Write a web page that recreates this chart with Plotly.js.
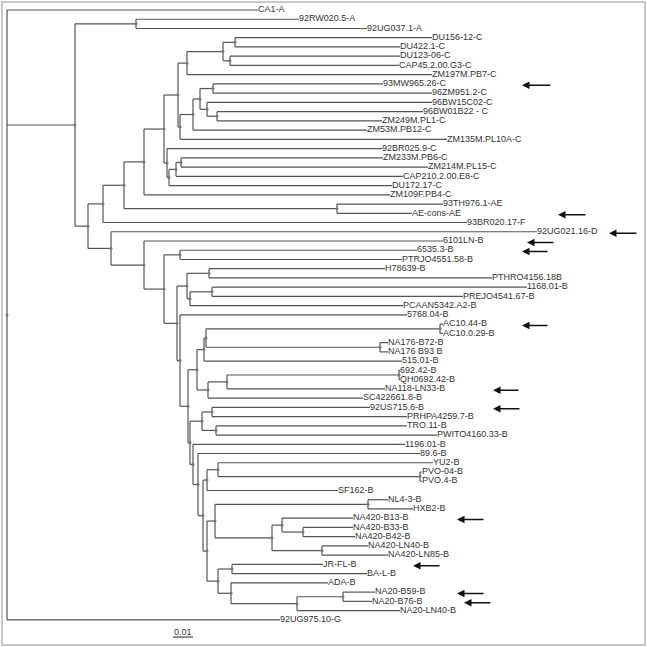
<!DOCTYPE html>
<html><head><meta charset="utf-8">
<script src="https://cdn.plot.ly/plotly-3.0.1.min.js"></script>
<style>html,body{margin:0;padding:0;background:#fff}#chart{width:647px;height:647px}</style>
</head><body><div id="chart"></div>
<script>
// ---- tips (top to bottom) ----
const tipLabels = ["CA1-A","92RW020.5-A","92UG037.1-A","DU156-12-C","DU422.1-C","DU123-06-C","CAP45.2.00.G3-C","ZM197M.PB7-C","93MW965.26-C","96ZM951.2-C","96BW15C02-C","96BW01B22 - C","ZM249M.PL1-C","ZM53M.PB12-C","ZM135M.PL10A-C","92BR025.9-C","ZM233M.PB6-C","ZM214M.PL15-C","CAP210.2.00.E8-C","DU172.17-C","ZM109F.PB4-C","93TH976.1-AE","AE-cons-AE","93BR020.17-F","92UG021.16-D","6101LN-B","6535.3-B","PTRJO4551.58-B","H78639-B","PTHRO4156.18B","1168.01-B","PREJO4541.67-B","PCAAN5342.A2-B","5768.04-B","AC10.44-B","AC10.0.29-B","NA176-B72-B","NA176 B93 B","515.01-B","692.42-B","QH0692.42-B","NA118-LN33-B","SC422661.8-B","92US715.6-B","PRHPA4259.7-B","TRO.11-B","PWITO4160.33-B","1196.01-B","89.6-B","YU2-B","PVO-04-B","PVO.4-B","SF162-B","NL4-3-B","HXB2-B","NA420-B13-B","NA420-B33-B","NA420-B42-B","NA420-LN40-B","NA420-LN85-B","JR-FL-B","BA-L-B","ADA-B","NA20-B59-B","NA20-B76-B","NA20-LN40-B","92UG975.10-G"];
// distance from root (substitutions/site)
const tipDepth = [0.1255,0.1460,0.1800,0.2125,0.1965,0.1965,0.1960,0.2125,0.1880,0.2125,0.2125,0.2080,0.1875,0.1800,0.2200,0.1875,0.1880,0.2105,0.1980,0.1925,0.1915,0.2180,0.2025,0.2300,0.2650,0.2180,0.2050,0.1975,0.1890,0.2425,0.2600,0.2280,0.1980,0.2000,0.2180,0.2180,0.1905,0.1905,0.1975,0.1965,0.1965,0.1890,0.1780,0.1815,0.2000,0.2000,0.2150,0.1990,0.2065,0.2130,0.2075,0.2075,0.1655,0.1905,0.2030,0.1730,0.1730,0.1740,0.1805,0.1905,0.1580,0.1800,0.1605,0.1840,0.1825,0.1965,0.1365];

// ---- internal clades ----
const cladeIds = ["root","N1","A","N2","N3","N4","AE","N5","N6","X","B4","B3","B1","B2","P5","P4","P3","Q","P2","P1","N7","N8","N9","N10",
  "NB0","NB1","NB2","NB3","NB6","NB4","HP","NB5","RP","NB7","NB13","NB10","NB9","NB8","AC","NA176","NB11","NB12","P692",
  "NB14","NB15","NB17","NB18","NB16","NB19","NB21","NB22","PVO","NB20","NB25","NB24","NP1","NB27","NB26","BP","LNP","NB30","JB","NB29","NB28","N20P"];
const cladeDepth = [0,0.0340,0.0645,0.0405,0.0480,0.0585,0.1650,0.0685,0.0785,0.0855,0.0900,0.1080,0.1140,0.1115,0.0865,0.0930,0.0965,0.1030,0.1000,0.1050,0.0800,0.0810,0.0845,0.0870,
  0.0520,0.0685,0.0785,0.0865,0.0850,0.0900,0.1010,0.0915,0.1025,0.0865,0.0905,0.0950,0.0985,0.0995,0.2165,0.1865,0.1005,0.1100,0.1960,
  0.0915,0.0975,0.1025,0.1045,0.0930,0.0955,0.1000,0.1055,0.2065,0.0980,0.1000,0.1040,0.1805,0.1325,0.1375,0.1480,0.1575,0.1055,0.1125,0.1120,0.1450,0.1680];
const cladeChildren = [[0,"N1",66],["A","N2"],[1,2],["N3","NB0"],["N4",23],["N5","AE"],[21,22],["N6",20],["X","N7"],["B4","P5"],["B3",7],["B1","B2"],[3,4],[5,6],["P4",14],["P3",13],["Q","P2"],[8,9],[10,"P1"],[11,12],[15,"N8"],["N9",19],["N10",18],[16,17],
  [24,"NB1"],[25,"NB2"],["NB3","NB6"],[26,27],["NB4","NB7"],["HP","NB5"],[28,29],["RP",32],[30,31],[33,"NB13"],["NB10","NB14"],["NB9","NB11"],["NB8",38],["AC","NA176"],[34,35],[36,37],["NB12",42],["P692",41],[39,40],
  ["NB15","NB16"],["NB17","NB18"],[43,44],[45,46],[47,"NB19"],[48,"NB20"],["NB22",52],[49,"PVO"],[50,51],["NB21","NB25"],["NB24","NB30"],["NP1","NB27"],[53,54],["NB26","LNP"],[55,"BP"],[56,57],[58,59],["JB","NB29"],[60,61],[62,"NB28"],["N20P",65],[63,64]];

// ---- highlighted sequences (arrows) ----
const arrowTips = ["93MW965.26-C","AE-cons-AE","92UG021.16-D","6101LN-B","6535.3-B","AC10.44-B","NA118-LN33-B","92US715.6-B","NA420-B13-B","JR-FL-B","NA20-B59-B","NA20-B76-B"];
const arrowHead = [0.2575,0.2755,0.3010,0.2600,0.2575,0.2575,0.2430,0.2430,0.2250,0.2030,0.2250,0.2285];
const arrowTail = [0.2725,0.2900,0.3155,0.2740,0.2710,0.2710,0.2565,0.2570,0.2390,0.2170,0.2390,0.2425];

const scaleLength = 0.01;
const scaleLabel = "0.01";

// ---- layout computation ----
const X = {}, Y = {};
tipLabels.forEach((l,i)=>{X['t'+i]=tipDepth[i];Y['t'+i]=i;});
const cIdx = {}; cladeIds.forEach((id,i)=>cIdx[id]=i);
const key = c => typeof c === 'number' ? 't'+c : c;
function place(id){
  if (Y[id] !== undefined) return Y[id];
  const i = cIdx[id];
  const ys = cladeChildren[i].map(c=>place(key(c)));
  Y[id] = (Math.min(...ys)+Math.max(...ys))/2;
  X[id] = cladeDepth[i];
  return Y[id];
}
place("root");

const lx=[], ly=[], dx=[], dy=[];
cladeIds.forEach((id,i)=>{
  const ch = cladeChildren[i].map(key);
  const ys = ch.map(c=>Y[c]);
  lx.push(X[id],X[id],null); ly.push(Math.min(...ys),Math.max(...ys),null);
  ch.forEach(c=>{ lx.push(X[id],X[c],null); ly.push(Y[c],Y[c],null); });
  dx.push(X[id]); dy.push(Y[id]);
});

const traces = [
  {x:lx,y:ly,mode:'lines',line:{color:'#555',width:1.2},hoverinfo:'skip',showlegend:false},
  {x:dx,y:dy,mode:'markers',marker:{color:'#777',size:3},hoverinfo:'skip',showlegend:false},
  {x:tipDepth,y:tipLabels.map((l,i)=>i),mode:'text',text:tipLabels,textposition:'middle right',
   textfont:{family:'Liberation Sans, Arial, sans-serif',size:9,color:'#333'},hoverinfo:'skip',showlegend:false},
  {x:[0.083,0.083+scaleLength],y:[67.86,67.86],mode:'lines',line:{color:'#444',width:1.2},hoverinfo:'skip',showlegend:false}
];

const annotations = arrowTips.map((n,k)=>{
  const yi = tipLabels.indexOf(n);
  return {x:arrowHead[k],y:yi+0.15,ax:arrowTail[k],ay:yi+0.15,axref:'x',ayref:'y',xref:'x',yref:'y',
    text:'',showarrow:true,arrowhead:2,arrowsize:1,arrowwidth:1.5,arrowcolor:'#111'};
});
annotations.push({x:0.083+scaleLength/2,y:67.3,xref:'x',yref:'y',text:scaleLabel,showarrow:false,
  font:{family:'Liberation Sans, Arial, sans-serif',size:9,color:'#333'}});

const layout = {
  width:647,height:647,margin:{l:0,r:0,t:0,b:0},
  paper_bgcolor:'#fff',plot_bgcolor:'#fff',
  xaxis:{range:[-0.0035,0.32],visible:false,fixedrange:true},
  yaxis:{range:[68.94,-1.082],visible:false,fixedrange:true},
  annotations:annotations,
  shapes:[{type:'rect',xref:'paper',yref:'paper',x0:0.003,x1:0.997,y0:0.003,y1:0.997,line:{color:'#c8c8c8',width:2}}]
};
Plotly.newPlot('chart',traces,layout,{displayModeBar:false,staticPlot:true});
</script></body></html>
